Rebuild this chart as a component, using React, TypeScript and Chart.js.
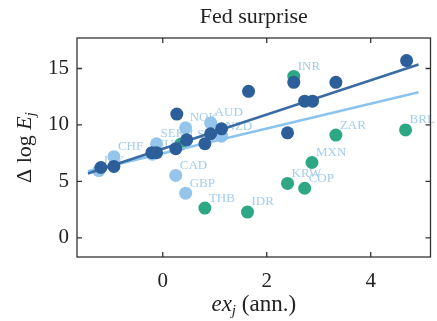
import React, { useEffect, useRef } from "react";
import { Chart, registerables } from "chart.js";

Chart.register(...registerables);

const chartTitle = "Fed surprise";
const xTicks = [0, 2, 4];
const yTicks = [0, 5, 10, 15];

const darkX = [-1.19, -0.94, -0.21, -0.12, 0.25, 0.27, 0.46, 0.81, 0.92, 1.13, 1.65, 2.52, 2.73, 2.88, 3.33, 2.4, 4.69];
const darkY = [6.23, 6.32, 7.54, 7.54, 7.89, 10.96, 8.68, 8.33, 9.21, 9.65, 12.98, 13.77, 12.1, 12.1, 13.77, 9.3, 15.7];

const lightLabels = ["JPY", "CHF", "EUR", "SEK", "NOK", "AUD", "NZD", "CAD", "GBP"];
const lightX = [-1.23, -0.94, -0.2, -0.12, 0.44, 0.92, 1.13, 0.25, 0.44];
const lightY = [5.96, 7.19, 7.4, 8.33, 9.74, 10.18, 9.0, 5.53, 3.95];

const greenLabels = ["INR", "ZAR", "BRL", "MXN", "KRW", "COP", "THB", "IDR", "ILS"];
const greenX = [2.52, 3.33, 4.67, 2.87, 2.4, 2.73, 0.81, 1.63, 0.35];
const greenY = [14.3, 9.1, 9.56, 6.67, 4.82, 4.39, 2.63, 2.28, 8.3];

const fitDarkX = [-1.44, 4.92];
const fitDarkY = [5.7, 15.35];
const fitLightX = [-1.44, 4.92];
const fitLightY = [5.9, 12.9];

const SERIF = "'Liberation Serif', 'DejaVu Serif', serif";
const DARK = "#2c5f99";
const LIGHT = "#95c5ea";
const GREEN = "#2ea784";
const LABEL = "#a3cdee";

const pts = (xs: number[], ys: number[]) => xs.map((x, i) => ({ x, y: ys[i] }));

const decor = {
  id: "decor",
  beforeDatasetsDraw(chart: any) {
    const ctx = chart.ctx;
    ctx.save();
    ctx.font = `13px ${SERIF}`;
    ctx.fillStyle = LABEL;
    ctx.textBaseline = "middle";
    ctx.textAlign = "left";
    const sets: [number, string[]][] = [
      [3, lightLabels],
      [4, greenLabels],
    ];
    for (const [di, labels] of sets) {
      const meta = chart.getDatasetMeta(di);
      meta.data.forEach((el: any, i: number) => {
        ctx.fillText(labels[i], el.x + 4, el.y - 10);
      });
    }
    ctx.restore();
  },
  afterDraw(chart: any) {
    const ctx = chart.ctx;
    const a = chart.chartArea;
    const xs = chart.scales.x;
    const ys = chart.scales.y;
    ctx.save();
    ctx.strokeStyle = "#333";
    ctx.lineWidth = 1.3;
    ctx.strokeRect(a.left, a.top, a.right - a.left, a.bottom - a.top);
    ctx.beginPath();
    const tl = 5;
    xTicks.forEach((v) => {
      const p = xs.getPixelForValue(v);
      ctx.moveTo(p, a.bottom);
      ctx.lineTo(p, a.bottom - tl);
      ctx.moveTo(p, a.top);
      ctx.lineTo(p, a.top + tl);
    });
    yTicks.forEach((v) => {
      const p = ys.getPixelForValue(v);
      ctx.moveTo(a.left, p);
      ctx.lineTo(a.left + tl, p);
      ctx.moveTo(a.right, p);
      ctx.lineTo(a.right - tl, p);
    });
    ctx.stroke();

    ctx.fillStyle = "#222";
    // title
    ctx.font = `22px ${SERIF}`;
    ctx.textAlign = "center";
    ctx.textBaseline = "middle";
    ctx.fillText(chartTitle, (a.left + a.right) / 2, 17);

    const drawSegs = (segs: { t: string; f: string; dy: number }[], cx: number, baseY: number) => {
      let total = 0;
      segs.forEach((s) => {
        ctx.font = s.f;
        total += ctx.measureText(s.t).width;
      });
      let x = cx - total / 2;
      ctx.textAlign = "left";
      ctx.textBaseline = "alphabetic";
      segs.forEach((s) => {
        ctx.font = s.f;
        ctx.fillText(s.t, x, baseY + s.dy);
        x += ctx.measureText(s.t).width;
      });
    };

    // x title
    drawSegs(
      [
        { t: "ex", f: `italic 23px ${SERIF}`, dy: 0 },
        { t: "j", f: `italic 15px ${SERIF}`, dy: 4 },
        { t: " (ann.)", f: `23px ${SERIF}`, dy: 0 },
      ],
      (a.left + a.right) / 2,
      311
    );

    // y title
    ctx.save();
    ctx.translate(31, (a.top + a.bottom) / 2);
    ctx.rotate(-Math.PI / 2);
    drawSegs(
      [
        { t: "Δ log ", f: `22px ${SERIF}`, dy: 0 },
        { t: "E", f: `italic 22px ${SERIF}`, dy: 0 },
        { t: "j", f: `italic 15px ${SERIF}`, dy: 4 },
      ],
      0,
      0
    );
    ctx.restore();
    ctx.restore();
  },
};

export default function App() {
  const ref = useRef<HTMLCanvasElement | null>(null);
  useEffect(() => {
    if (!ref.current) return;
    const chart = new Chart(ref.current, {
      type: "scatter",
      data: {
        datasets: [
          {
            data: pts(darkX, darkY),
            backgroundColor: DARK,
            borderWidth: 0,
            pointRadius: 6.5,
            order: 0,
          } as any,
          {
            data: pts(fitDarkX, fitDarkY),
            showLine: true,
            borderColor: "#3a6ca3",
            borderWidth: 2.5,
            pointRadius: 0,
            order: 1,
          } as any,
          {
            data: pts(fitLightX, fitLightY),
            showLine: true,
            borderColor: "#8cc3ec",
            borderWidth: 2.5,
            pointRadius: 0,
            order: 2,
          } as any,
          {
            data: pts(lightX, lightY),
            backgroundColor: LIGHT,
            borderWidth: 0,
            pointRadius: 6.5,
            order: 3,
          } as any,
          {
            data: pts(greenX, greenY),
            backgroundColor: GREEN,
            borderWidth: 0,
            pointRadius: 6.5,
            order: 4,
          } as any,
        ],
      },
      options: {
        animation: false,
        responsive: false,
        maintainAspectRatio: false,
        layout: { padding: { top: 38, right: 5, left: 0, bottom: 0 } },
        plugins: {
          legend: { display: false },
          tooltip: { enabled: false },
          title: { display: false },
        },
        scales: {
          x: {
            type: "linear",
            min: -1.65,
            max: 5.15,
            grid: { display: false, drawTicks: false },
            border: { display: false },
            ticks: { font: { family: SERIF, size: 21 }, color: "#222", padding: 12 },
            afterBuildTicks: (s: any) => {
              s.ticks = xTicks.map((v) => ({ value: v }));
            },
            afterFit: (s: any) => {
              s.height = 64;
            },
          },
          y: {
            type: "linear",
            min: -1.7,
            max: 17.7,
            grid: { display: false, drawTicks: false },
            border: { display: false },
            ticks: { font: { family: SERIF, size: 21 }, color: "#222", padding: 8 },
            afterBuildTicks: (s: any) => {
              s.ticks = yTicks.map((v) => ({ value: v }));
            },
            afterFit: (s: any) => {
              s.width = 77;
            },
          },
        },
      } as any,
      plugins: [decor],
    });
    return () => chart.destroy();
  }, []);
  return (
    <div style={{ position: "fixed", left: 0, top: 0, width: 437, height: 321, background: "#fff" }}>
      <canvas ref={ref} width={437} height={321} style={{ width: 437, height: 321 }} />
    </div>
  );
}
